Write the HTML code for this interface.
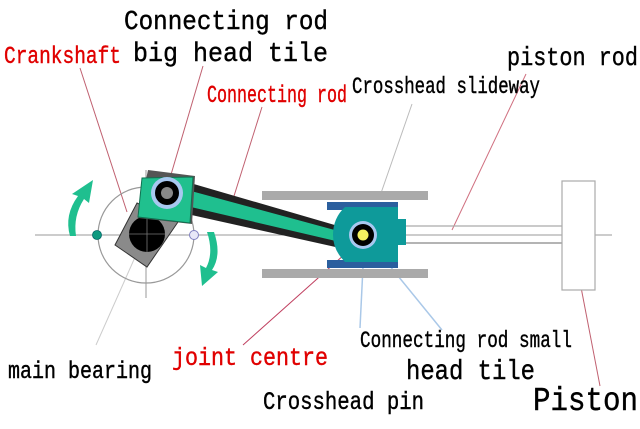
<!DOCTYPE html>
<html><head><meta charset="utf-8"><style>
html,body{margin:0;padding:0;background:#fff;}
svg{display:block;}
text{font-family:"Liberation Mono",monospace;}
</style></head><body>
<svg width="640" height="429" viewBox="0 0 640 429" xmlns="http://www.w3.org/2000/svg">
<g stroke-width="1" fill="none">
<line x1="80" y1="68" x2="127" y2="212" stroke="#c06070"/>
<line x1="203" y1="66" x2="170" y2="178" stroke="#c06070"/>
<line x1="262" y1="107" x2="234" y2="196" stroke="#c06070"/>
<line x1="412" y1="104" x2="380" y2="196" stroke="#bbb"/>
<line x1="526" y1="74" x2="452" y2="230" stroke="#d07080"/>
<line x1="96" y1="345" x2="140" y2="246" stroke="#ccc"/>
<line x1="243" y1="345" x2="345" y2="254" stroke="#c04060"/>
<line x1="360" y1="328" x2="364" y2="246" stroke="#aac8e8" stroke-width="1.5"/>
<line x1="442" y1="330" x2="372" y2="244" stroke="#aac8e8" stroke-width="1.5"/>
<line x1="600" y1="386" x2="580" y2="282" stroke="#c06070"/>
</g>
<line x1="35" y1="235" x2="612" y2="235" stroke="#999" stroke-width="1"/>
<line x1="146" y1="170" x2="146" y2="298" stroke="#999" stroke-width="1"/>
<circle cx="146" cy="235" r="48" fill="none" stroke="#999" stroke-width="1.2"/>
<rect x="262" y="191" width="166" height="9" fill="#aaa"/>
<rect x="262" y="269" width="166" height="9" fill="#aaa"/>
<line x1="400" y1="226" x2="562" y2="226" stroke="#aaa" stroke-width="1.2"/>
<line x1="400" y1="243" x2="562" y2="243" stroke="#888" stroke-width="1.2"/>
<rect x="562" y="181" width="33" height="109" fill="#fff" stroke="#aaa" stroke-width="1.2"/>
<polygon points="137,203 178,222 147,267 115,245" fill="#8a8a8a" stroke="#333" stroke-width="1"/>
<circle cx="147" cy="234" r="18" fill="#000"/>
<line x1="147" y1="216" x2="147" y2="252" stroke="#777" stroke-width="0.8"/>
<line x1="129" y1="234" x2="165" y2="234" stroke="#777" stroke-width="0.8"/>
<polygon points="180,180 345,228 340,248 178,212" fill="#222"/>
<polygon points="180,188 342,232 340,242 178,204" fill="#1fbf8f"/>
<polygon points="148,170 195,176 192,224 138,218" fill="#555"/>
<polygon points="142,178 193,177 190,223 138,217" fill="#20c08e" stroke="#107050" stroke-width="1"/>
<circle cx="167" cy="193" r="16" fill="#a8c8f0"/>
<circle cx="167" cy="193" r="12" fill="#000"/>
<circle cx="167" cy="193" r="6" fill="#888"/>
<rect x="327" y="202" width="71" height="8" fill="#2b5f9e"/>
<rect x="327" y="260" width="71" height="8" fill="#2b5f9e"/>
<path d="M345,207 H398 V262 H345 Q333,250 333,235 Q333,218 345,207 Z" fill="#0e9a9a"/>
<rect x="398" y="219" width="8" height="26" fill="#0e9a9a"/>
<circle cx="363" cy="235" r="14" fill="#a8c8f0"/>
<circle cx="363" cy="235" r="11" fill="#000"/>
<circle cx="363" cy="235" r="5.5" fill="#f4f060"/>
<circle cx="97" cy="235" r="4.5" fill="#0e9a80" stroke="#066" stroke-width="0.8"/>
<circle cx="194" cy="235" r="4.5" fill="#e8e8f8" stroke="#8080c0" stroke-width="1"/>
<path d="M70,236 Q64,215 78,196 L72,194 L93,180 L89,203 L84,199 Q73,216 76,236 Z" fill="#1fbf8f"/>
<path d="M214,232 Q222,255 212,270 L218,272 L202,286 L200,265 L206,268 Q214,253 207,232 Z" fill="#1fbf8f"/>
<g stroke-width="0.4">
<text x="124" y="29" font-size="27" fill="#000" stroke="#000" textLength="204" lengthAdjust="spacingAndGlyphs">Connecting rod</text>
<text x="133" y="61" font-size="27" fill="#000" stroke="#000" textLength="195" lengthAdjust="spacingAndGlyphs">big head tile</text>
<text x="4" y="63" font-size="24" fill="#e00000" stroke="#e00000" textLength="117" lengthAdjust="spacingAndGlyphs">Crankshaft</text>
<text x="207" y="102" font-size="24" fill="#e00000" stroke="#e00000" textLength="140" lengthAdjust="spacingAndGlyphs">Connecting rod</text>
<text x="352" y="93" font-size="23" fill="#000" stroke="#000" textLength="188" lengthAdjust="spacingAndGlyphs">Crosshead slideway</text>
<text x="507" y="65" font-size="26" fill="#000" stroke="#000" textLength="131" lengthAdjust="spacingAndGlyphs">piston rod</text>
<text x="8" y="378" font-size="24" fill="#000" stroke="#000" textLength="144" lengthAdjust="spacingAndGlyphs">main bearing</text>
<text x="172" y="365" font-size="25" fill="#e00000" stroke="#e00000" textLength="156" lengthAdjust="spacingAndGlyphs">joint centre</text>
<text x="360" y="347" font-size="23" fill="#000" stroke="#000" textLength="212" lengthAdjust="spacingAndGlyphs">Connecting rod small</text>
<text x="406" y="379" font-size="28" fill="#000" stroke="#000" textLength="129" lengthAdjust="spacingAndGlyphs">head tile</text>
<text x="263" y="409" font-size="25" fill="#000" stroke="#000" textLength="161" lengthAdjust="spacingAndGlyphs">Crosshead pin</text>
<text x="533" y="410" font-size="33" fill="#000" stroke="#000" textLength="105" lengthAdjust="spacingAndGlyphs">Piston</text>
</g>
</svg>
</body></html>
